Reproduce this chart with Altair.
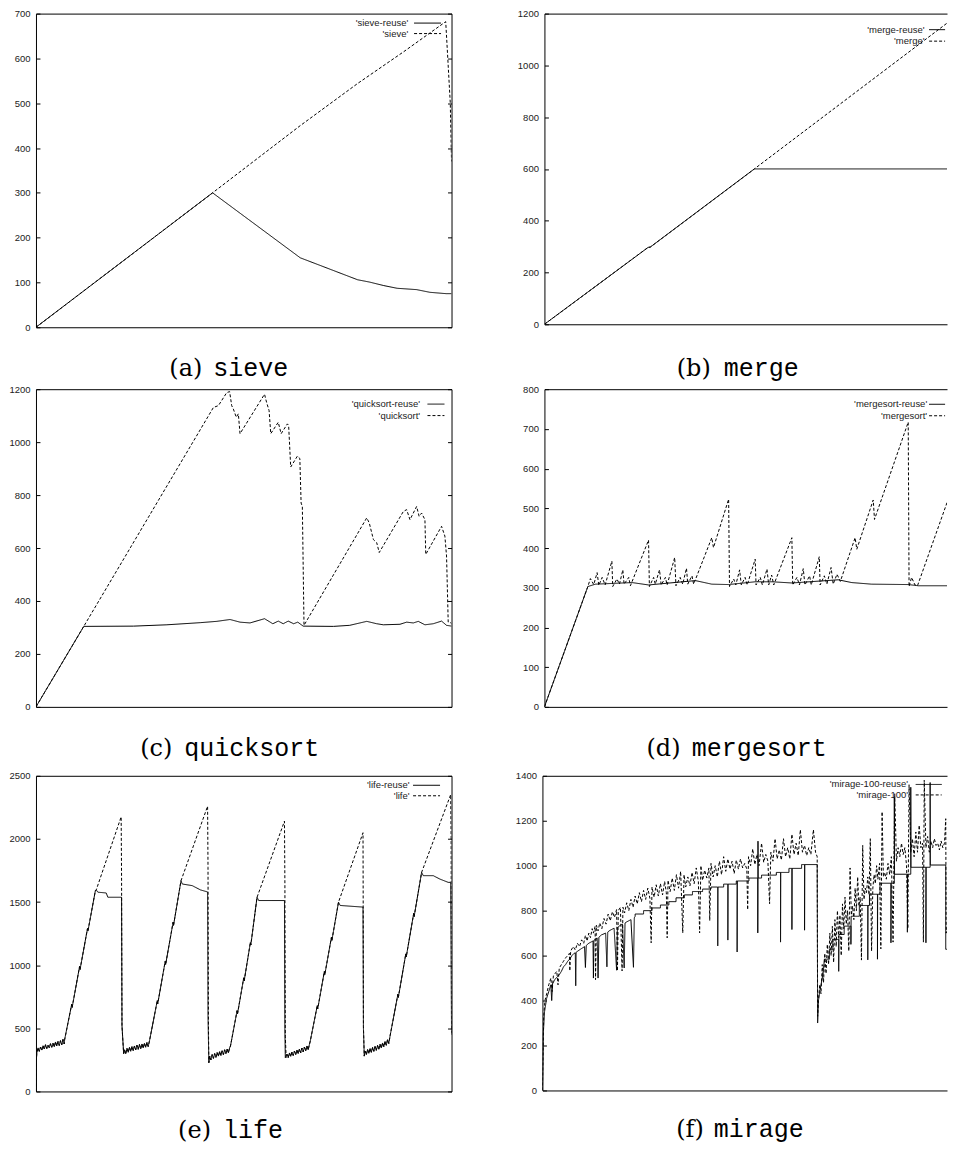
import altair as alt
import pandas as pd

SANS = "Liberation Sans"
SERIF = "DejaVu Serif"
MONO = "Liberation Mono"

# ---------------- data (x = position across the run, 0..100; y = value) ----------------
SIEVE_REUSE = [(0, 0), (42.5, 300), (63.6, 155), (77.4, 106), (80.2, 101), (83.7, 93), (86.9, 87),
               (91.6, 84), (94.8, 78), (98.7, 75), (100, 75)]
SIEVE_BASE = [(0, 0), (42.5, 300), (63.6, 450), (77.4, 544), (88.5, 615), (98.6, 682), (99.1, 600),
              (99.7, 500), (100, 370)]

MERGE_REUSE = [(0, 0), (24.6, 297), (25.1, 298), (49.8, 600), (100, 600)]
MERGE_BASE = [(0, 0), (24.6, 297), (25.1, 298), (49.8, 600), (98.5, 1200)]

QS_REUSE = [(0, 0), (11.5, 304), (23.5, 305), (31.5, 310), (39.5, 318), (43.5, 323), (46.7, 330),
            (49.1, 320), (51.5, 317), (55, 333), (57, 314), (58.3, 324), (59.5, 314), (60.7, 324),
            (62, 314), (63, 320), (64.3, 305), (71.6, 304), (75.5, 308), (79.6, 323), (82, 314),
            (83.6, 310), (87.6, 312), (89.2, 320), (90.8, 317), (92, 323), (93.6, 310), (95.6, 314),
            (97.6, 324), (98.8, 308), (100, 305)]
QS_BASE = [(0, 0), (11.5, 304), (42.7, 1131), (43.9, 1138), (45.9, 1187), (46.6, 1191), (47.1, 1138),
           (47.5, 1125), (48.2, 1094), (48.7, 1107), (49.1, 1032), (55, 1181), (55.5, 1150),
           (56.1, 1119), (56.5, 1032), (58.3, 1075), (59, 1032), (60.5, 1069), (60.8, 1063),
           (61.3, 906), (62.9, 947), (63.5, 938), (63.8, 770), (64.1, 757), (64.5, 308), (79.6, 714),
           (80.2, 695), (81.2, 632), (82, 620), (82.6, 583), (88.4, 738), (89.2, 745), (90, 707),
           (91.6, 757), (92.2, 720), (92.8, 732), (93.6, 707), (93.8, 576), (97.6, 682), (98.4, 645),
           (98.8, 570), (99.2, 320), (99.6, 320), (100, 314)]

MS_REUSE = [(0, 0), (10.3, 303), (12.1, 309), (20.8, 313), (24.7, 307), (35.8, 318), (39.7, 309),
            (43.7, 308), (50, 315), (54, 315), (58.7, 312), (69.7, 320), (72.9, 313), (77.6, 309),
            (86.3, 308), (88.7, 305), (100, 305)]
MS_BASE = [(0, 0), (10.3, 303), (10.9, 323), (11.7, 308), (12.5, 338), (12.9, 306), (13.7, 326),
           (14.4, 307), (16, 367), (16.2, 303), (17.2, 322), (17.8, 309), (18.6, 345), (18.9, 309),
           (20, 326), (20.4, 305), (24.7, 420), (24.9, 303), (25.9, 326), (26.3, 309), (27.3, 345),
           (27.7, 307), (28.7, 326), (29.1, 307), (30.9, 376), (31.2, 305), (32.2, 326), (32.8, 309),
           (33.7, 349), (34, 309), (35, 330), (35.4, 309), (39.7, 426), (40.1, 401), (43.7, 523),
           (43.9, 303), (44.9, 322), (45.4, 307), (46.3, 345), (46.7, 307), (47.6, 326), (48.1, 307),
           (50, 372), (50.2, 307), (51.2, 326), (51.7, 307), (52.8, 347), (53.2, 307), (53.9, 332),
           (54.4, 307), (58.7, 426), (58.9, 307), (59.9, 326), (60.5, 307), (61.4, 348), (61.8, 307),
           (62.9, 330), (63.3, 307), (65.2, 378), (65.4, 307), (66.4, 330), (67, 309), (68, 351),
           (68.5, 309), (69.4, 334), (70.2, 316), (73.7, 426), (74.1, 397), (78, 521), (78.3, 472),
           (86.3, 717), (86.5, 303), (87.1, 326), (87.9, 307), (88.5, 305), (97.7, 580), (99, 620)]

# life: shared noisy low phases and rising phases, then the two different tops
LIFE_START = [(0, 0), (0.1, 250)]
LIFE_LOW = [
    [(0.2, 305), (0.5, 345), (0.8, 318), (1.1, 352), (1.4, 328), (1.7, 362), (2.0, 336), (2.3, 370),
     (2.6, 340), (2.9, 366), (3.2, 346), (3.5, 378), (3.8, 350), (4.1, 382), (4.4, 354), (4.7, 392),
     (5.0, 360), (5.3, 396), (5.6, 364), (5.9, 402), (6.2, 370), (6.5, 412), (6.8, 376)],
    [(21.3, 330), (21.6, 298), (21.9, 342), (22.2, 310), (22.5, 350), (22.8, 318), (23.1, 356),
     (23.4, 324), (23.7, 360), (24.0, 330), (24.3, 366), (24.6, 334), (24.9, 372), (25.2, 338),
     (25.5, 376), (25.8, 344), (26.1, 382), (26.4, 350), (26.7, 388), (27.0, 356)],
    [(41.8, 280), (42.1, 250), (42.4, 292), (42.7, 262), (43.0, 300), (43.3, 270), (43.6, 308),
     (43.9, 280), (44.2, 316), (44.5, 286), (44.8, 322), (45.1, 292), (45.4, 330), (45.7, 300),
     (46.0, 336), (46.3, 306), (46.6, 345)],
    [(60.4, 295), (60.7, 268), (61.0, 305), (61.3, 278), (61.6, 312), (61.9, 285), (62.2, 320),
     (62.5, 292), (62.8, 328), (63.1, 300), (63.4, 336), (63.7, 306), (64.0, 344), (64.3, 314),
     (64.6, 352), (64.9, 322), (65.2, 360), (65.5, 330), (65.8, 372)],
    [(79.2, 320), (79.5, 292), (79.8, 332), (80.1, 302), (80.4, 340), (80.7, 310), (81.0, 348),
     (81.3, 318), (81.6, 356), (81.9, 326), (82.2, 364), (82.5, 334), (82.8, 374), (83.1, 344),
     (83.4, 384), (83.7, 354), (84.0, 396), (84.3, 366), (84.6, 410), (84.9, 380)],
]
LIFE_RISE = [
    [(6.9, 411), (8.6, 690), (8.7, 665), (10.5, 990), (10.6, 965), (12.4, 1290), (12.5, 1270), (14.3, 1591), (14.5, 1596)],
    [(27.3, 398), (29.2, 720), (29.3, 695), (31.1, 1030), (31.2, 1005), (33, 1340), (33.1, 1315), (34.9, 1669)],
    [(46.8, 359), (48.4, 640), (48.5, 615), (50, 900), (50.1, 875), (51.6, 1180), (51.7, 1160), (53.2, 1538)],
    [(66, 398), (67.7, 680), (67.8, 655), (69.4, 950), (69.5, 925), (71.1, 1220), (71.2, 1195), (72.8, 1499)],
    [(85.2, 438), (87.1, 770), (87.2, 745), (89, 1090), (89.1, 1065), (90.9, 1410), (91, 1385), (92.8, 1735)],
]
LIFE_REUSE_TOP = [
    [(14.9, 1578), (16.9, 1572), (17.3, 1538), (20.6, 1538), (20.7, 520), (21.1, 300)],
    [(35.2, 1643), (37.6, 1630), (39.6, 1596), (41.3, 1580), (41.4, 600), (41.6, 228)],
    [(53.6, 1512), (59.8, 1512), (59.9, 500), (60.0, 267)],
    [(73.2, 1473), (78.7, 1460), (78.8, 500), (79, 280)],
    [(93.2, 1709), (95.6, 1709), (97.2, 1682), (99.2, 1656), (99.8, 1656), (99.9, 1100), (100, 450)],
]
LIFE_BASE_TOP = [
    [(20.5, 2175), (20.6, 1695), (20.7, 516), (21.1, 300)],
    [(41.3, 2259), (41.4, 1774), (41.5, 542), (41.6, 228)],
    [(59.8, 2141), (59.9, 1643), (60.0, 438), (60.2, 267)],
    [(78.7, 2049), (78.75, 1381), (78.8, 516), (79, 280)],
    [(99.8, 2351), (99.9, 2010), (100, 464)],
]

MIRAGE_REUSE = [
    (0, 0), (0.2, 250), (0.5, 350), (1, 410), (1.5, 440), (2, 470), (2.2, 400), (2.4, 475), (3, 495),
    (3.5, 505), (4, 515), (4.5, 530), (5, 550), (5.5, 560), (6, 575), (6.5, 585), (7, 600), (7.5, 610),
    (7.8, 612), (7.9, 466), (8.0, 615), (9, 628), (10, 640), (10.2, 547), (10.4, 645), (11, 655),
    (12, 665), (12.1, 500), (12.2, 668), (13, 678), (13.2, 500), (13.4, 682), (14, 692), (15, 700),
    (15.3, 550), (15.5, 705), (16, 712), (17, 722), (17.6, 535), (17.8, 725), (18.5, 735), (19, 740),
    (19.4, 545), (19.6, 745), (20, 750), (21, 760), (21.6, 548), (21.8, 768), (22, 775),
    (22, 785), (24, 785), (24, 800), (26, 800), (26, 812), (28, 812), (28, 825), (30, 825), (30, 840),
    (31.7, 840), (31.7, 857), (33.7, 857), (33.7, 870), (35.6, 870), (35.6, 885), (38, 885), (38, 896),
    (40, 896), (40, 905), (41.6, 905), (41.6, 643), (41.65, 905), (43, 905), (43, 918), (44, 918),
    (44, 669), (44.05, 918), (46, 918), (46, 932), (46.2, 932), (46.2, 616), (46.25, 932), (49, 932),
    (49, 945), (51.1, 945), (51.1, 701), (51.15, 1109), (51.2, 945), (52, 945), (52, 958), (55.5, 958),
    (55.5, 970), (56.5, 970), (56.5, 660), (56.55, 970), (58.5, 970), (58.5, 988), (59.2, 988),
    (59.2, 716), (59.25, 988), (61.5, 988), (61.5, 1005), (62.2, 1005), (62.2, 713), (62.25, 1005),
    (65.2, 1005), (65.3, 300),
    (65.5, 400), (65.8, 440), (66.1, 470), (66.4, 500), (66.7, 540), (66.9, 584), (68.1, 584),
    (68.1, 628), (68.9, 628), (68.9, 672), (70.3, 672), (70.3, 530), (70.35, 694), (71.6, 694),
    (71.6, 731), (73.2, 731), (73.2, 650), (73.25, 775), (75.2, 775), (75.2, 823), (77.2, 823),
    (77.2, 581), (77.25, 823), (77.6, 823), (77.6, 873), (79.5, 873), (79.5, 584), (79.55, 873),
    (80.1, 873), (80.1, 922), (82.7, 922), (82.7, 657), (82.75, 922), (83.5, 922), (83.5, 1304),
    (83.55, 962), (86.6, 962), (86.6, 704), (86.65, 962), (87.4, 962), (87.4, 1349), (87.45, 993),
    (91, 993), (91, 657), (91.05, 993), (92, 993), (92, 1370), (92.05, 1003), (95.7, 1003),
    (95.7, 628), (98.5, 628)]
MIRAGE_BASE = [
    (0, 0), (0.3, 330), (0.6, 400), (1, 430), (1.5, 470), (2, 500), (2.3, 440), (2.6, 510), (3, 520),
    (3.4, 530), (3.7, 470), (4, 545), (4.5, 560), (5, 575), (5.5, 590), (6, 600), (6.4, 610),
    (6.5, 532), (6.7, 620), (7.3, 640), (7.8, 625), (8.3, 655), (8.8, 640), (9.3, 670), (9.8, 655),
    (10.2, 690), (10.6, 665), (11, 700), (11.4, 680), (11.8, 720), (12.1, 700), (12.5, 730),
    (12.6, 493), (12.8, 735), (13.2, 710), (13.6, 745), (14.1, 720), (14.6, 765), (15.1, 740),
    (15.6, 785), (16.1, 755), (16.6, 795), (17.1, 770), (17.6, 805), (17.8, 532), (18.0, 800),
    (18.5, 815), (18.9, 532), (19.1, 815), (19.5, 790), (20, 835), (20.5, 800), (21, 850), (21.5, 815),
    (22, 865), (22.5, 830), (23, 880), (23.5, 840), (24, 890), (24.5, 850), (25, 900), (25.5, 855),
    (25.8, 657), (26, 905), (26.5, 860), (27, 915), (27.5, 865), (28, 920), (28.5, 870), (29, 930),
    (29.4, 880), (29.6, 679), (29.8, 935), (30.3, 885), (30.8, 945), (31.3, 890), (31.8, 960),
    (32.3, 900), (32.8, 975), (33.3, 701), (33.6, 960), (34, 905), (34.5, 950), (35, 910), (35.5, 970),
    (36, 920), (36.5, 990), (37, 930), (37.3, 701), (37.6, 1000), (38, 935), (38.5, 980), (39, 945),
    (39.5, 990), (39.7, 756), (40, 1010), (40.5, 950), (41, 1000), (41.5, 950), (42, 1020), (42.5, 960),
    (43, 1040), (43.5, 975), (44, 1030), (44.5, 985), (45, 1020), (45.5, 965), (46, 1025), (46.5, 985),
    (47, 1030), (47.5, 990), (48, 1010), (48.5, 985), (48.7, 804), (48.9, 1040), (49.4, 1000),
    (49.9, 1075), (50.4, 1005), (50.9, 1050), (51.4, 1000), (52, 1100), (52.5, 1015), (53, 1050),
    (53.5, 1020), (53.9, 831), (54.2, 1060), (54.7, 1020), (55.2, 1120), (55.7, 1030), (56.2, 1070),
    (56.7, 1025), (57.2, 1120), (57.7, 1040), (58.2, 1080), (58.7, 1030), (59.2, 1140), (59.7, 1050),
    (60.2, 1100), (60.7, 1045), (61.2, 1160), (61.7, 1060), (62.2, 1090), (62.7, 1045), (63.2, 1080),
    (63.7, 1050), (64.3, 1160), (64.8, 1060), (65.2, 1040), (65.3, 330),
    (65.5, 400), (65.8, 470), (66.1, 430), (66.4, 560), (66.7, 480), (67, 610), (67.3, 520), (67.6, 650),
    (67.9, 560), (68.2, 700), (68.5, 600), (68.8, 730), (69.1, 570), (69.4, 760), (69.7, 640), (70, 800),
    (70.3, 680), (70.6, 780), (70.9, 600), (71.2, 830), (71.5, 720), (71.8, 860), (72.1, 740),
    (72.4, 800), (72.7, 620), (73, 990), (73.3, 780), (73.6, 820), (73.9, 760), (74.2, 900), (74.5, 800),
    (74.8, 950), (75.1, 820), (75.4, 860), (75.7, 580), (76, 1090), (76.3, 850), (76.6, 900),
    (76.9, 880), (77.2, 950), (77.5, 870), (77.8, 1120), (78.1, 620), (78.4, 900), (78.7, 960),
    (79, 920), (79.3, 1000), (79.6, 940), (80, 1010), (80.3, 630), (80.6, 1240), (80.9, 950),
    (81.2, 970), (81.6, 940), (82, 1010), (82.4, 960), (82.8, 1040), (83.2, 660), (83.6, 1320),
    (84, 1020), (84.4, 1080), (84.8, 1040), (85.2, 1100), (85.6, 1050), (86, 1080), (86.4, 1000),
    (86.7, 720), (87, 1360), (87.4, 1060), (87.8, 1120), (88.2, 1040), (88.6, 1150), (89, 1060),
    (89.4, 1180), (89.8, 1080), (90.2, 1100), (90.4, 660), (90.6, 1380), (91, 1080), (91.4, 1130),
    (91.8, 1060), (92.2, 1110), (92.6, 1080), (93, 1120), (93.4, 1090), (93.8, 1100), (94.2, 1070),
    (94.6, 1110), (95, 1080), (95.4, 1100), (95.7, 1209), (95.8, 700), (96.2, 740), (96.6, 680),
    (97, 720), (97.4, 690), (97.8, 720), (98.2, 700)]


def life_series(tops):
    pts = list(LIFE_START)
    for k in range(5):
        pts += LIFE_LOW[k] + LIFE_RISE[k] + tops[k]
    return pts


LIFE_REUSE = life_series(LIFE_REUSE_TOP)
LIFE_BASE = life_series(LIFE_BASE_TOP)

YT_700 = [0, 100, 200, 300, 400, 500, 600, 700]
YT_1200 = [0, 200, 400, 600, 800, 1000, 1200]
YT_800 = [0, 100, 200, 300, 400, 500, 600, 700, 800]
YT_2500 = [0, 500, 1000, 1500, 2000, 2500]
YT_1400 = [0, 200, 400, 600, 800, 1000, 1200, 1400]

# lx: legend symbol start, ly: first legend row centre, both relative to the plot's top-left corner
PANELS = {
    "a": dict(tag="(a)", word="sieve", names=["'sieve-reuse'", "'sieve'"], data=[SIEVE_REUSE, SIEVE_BASE],
              w=416, h=314, xmax=100, ymax=700, yt=YT_700, right=True, lx=378, ly=9, symw=27, gap=6.3,
              cx1=166, cx2=177, cy=48),
    "b": dict(tag="(b)", word="merge", names=["'merge-reuse'", "'merge'"], data=[MERGE_REUSE, MERGE_BASE],
              w=403, h=311, xmax=95.5, ymax=1200, yt=YT_1200, right=False, lx=383, ly=14, symw=16, gap=6.7,
              cx1=166, cx2=179, cy=51),
    "c": dict(tag="(c)", word="quicksort", names=["'quicksort-reuse'", "'quicksort'"], data=[QS_REUSE, QS_BASE],
              w=416, h=318, xmax=100, ymax=1200, yt=YT_1200, right=True, lx=390, ly=13, symw=17, gap=9.3,
              cx1=136, cx2=148, cy=49),
    "d": dict(tag="(d)", word="mergesort", names=["'mergesort-reuse'", "'mergesort'"], data=[MS_REUSE, MS_BASE],
              w=403, h=318, xmax=95.5, ymax=800, yt=YT_800, right=False, lx=383, ly=13, symw=16, gap=4,
              cx1=135.7, cx2=147, cy=49),
    "e": dict(tag="(e)", word="life", names=["'life-reuse'", "'life'"], data=[LIFE_REUSE, LIFE_BASE],
              w=416, h=316, xmax=100, ymax=2500, yt=YT_2500, right=True, lx=377, ly=9, symw=27, gap=4,
              cx1=174.7, cx2=186.7, cy=46),
    "f": dict(tag="(f)", word="mirage", names=["'mirage-100-reuse'", "'mirage-100'"], data=[MIRAGE_REUSE, MIRAGE_BASE],
              w=405, h=315, xmax=96.0, ymax=1400, yt=YT_1400, right=False, lx=373, ly=8, symw=26, gap=8.3,
              cx1=161, cx2=171, cy=46),
}

INWARD = alt.ExprRef(expr="-4")
LINE_PATH = "M-3,0H3"   # legend sample: a horizontal stroke three size-units long each side


def panel(p):
    rows = []
    for name, pts in zip(p["names"], p["data"]):
        for i, (x, y) in enumerate(pts):
            rows.append({"x": x, "y": y, "series": name, "i": i})
    df = pd.DataFrame(rows)
    xs = alt.Scale(domain=[0, p["xmax"]], nice=False, zero=False)
    ys = alt.Scale(domain=[0, p["ymax"]], nice=False, zero=False)

    left_axis = alt.Axis(orient="left", values=p["yt"], format="d", title=None, grid=False, labelFont=SANS,
                         labelFontSize=9.5, labelColor="#222", labelPadding=10, labelFlush=False,
                         tickSize=INWARD, domain=True, minExtent=28, maxExtent=28)
    bottom_axis = alt.Axis(orient="bottom", ticks=False, labels=False, grid=False, domain=True,
                           title=p["tag"], titleFont=SERIF, titleFontSize=24, titleFontWeight="normal",
                           titleColor="black", titleAlign="right", titleBaseline="alphabetic",
                           titleX=p["cx1"], titleY=p["cy"])
    top_axis = alt.Axis(orient="top", ticks=False, labels=False, grid=False, domain=True,
                        title=p["word"], titleFont=MONO, titleFontSize=25, titleFontWeight="normal",
                        titleColor="black", titleAlign="left", titleBaseline="alphabetic",
                        titleX=p["cx2"], titleY=p["h"] + p["cy"])
    right_axis = alt.Axis(orient="right", values=p["yt"], title=None, grid=False, labels=False,
                          tickSize=INWARD, domain=True) if p["right"] else None

    L = p["symw"]
    unit = L / 3.0
    legend = alt.Legend(orient="none", legendX=p["lx"] + unit, legendY=p["ly"] - unit / 2, title=None,
                        padding=0, rowPadding=0.5, labelFont=SANS, labelFontSize=9.5, labelColor="#222",
                        labelAlign="right",
                        labelOffset=alt.ExprRef(expr=str(-(2 * unit + p["gap"]))),
                        symbolType=LINE_PATH, symbolSize=unit * unit, symbolStrokeWidth=1,
                        symbolStrokeColor="black", symbolOpacity=1)

    lines = alt.Chart(df).mark_line(color="black", strokeWidth=1, clip=True).encode(
        x=alt.X("x:Q", scale=xs, axis=bottom_axis),
        y=alt.Y("y:Q", scale=ys, axis=left_axis),
        strokeDash=alt.StrokeDash("series:N", scale=alt.Scale(domain=p["names"], range=[[1, 0], [3, 2]]),
                                  legend=legend),
        order=alt.Order("i:Q"),
    )
    ghost = alt.Chart(pd.DataFrame({"x": [0], "y": [0]})).mark_point(opacity=0, clip=True).encode(
        x=alt.X("x:Q", scale=xs, axis=top_axis),
        y=alt.Y("y:Q", scale=ys, axis=right_axis),
    )
    return alt.layer(lines, ghost).resolve_axis(x="independent", y="independent").properties(
        width=p["w"], height=p["h"])


def row(a, b, sp):
    return alt.hconcat(panel(PANELS[a]), panel(PANELS[b]), spacing=sp).resolve_scale(
        strokeDash="independent").resolve_legend(strokeDash="independent")


row1 = row("a", "b", 64)
row2 = row("c", "d", 64)
row3 = row("e", "f", 62)

top2 = alt.vconcat(row1, row2, spacing=4).resolve_scale(strokeDash="independent").resolve_legend(
    strokeDash="independent")
chart = alt.vconcat(top2, row3, spacing=10).resolve_scale(strokeDash="independent").resolve_legend(
    strokeDash="independent").properties(
    padding={"top": 0, "left": 0, "right": 0, "bottom": 3}, background="white"
).configure_view(stroke=None).configure_axis(
    domainColor="black", domainWidth=1, tickColor="black", tickWidth=1
)

chart.save("out.html", embed_options={"renderer": "svg", "actions": False})
